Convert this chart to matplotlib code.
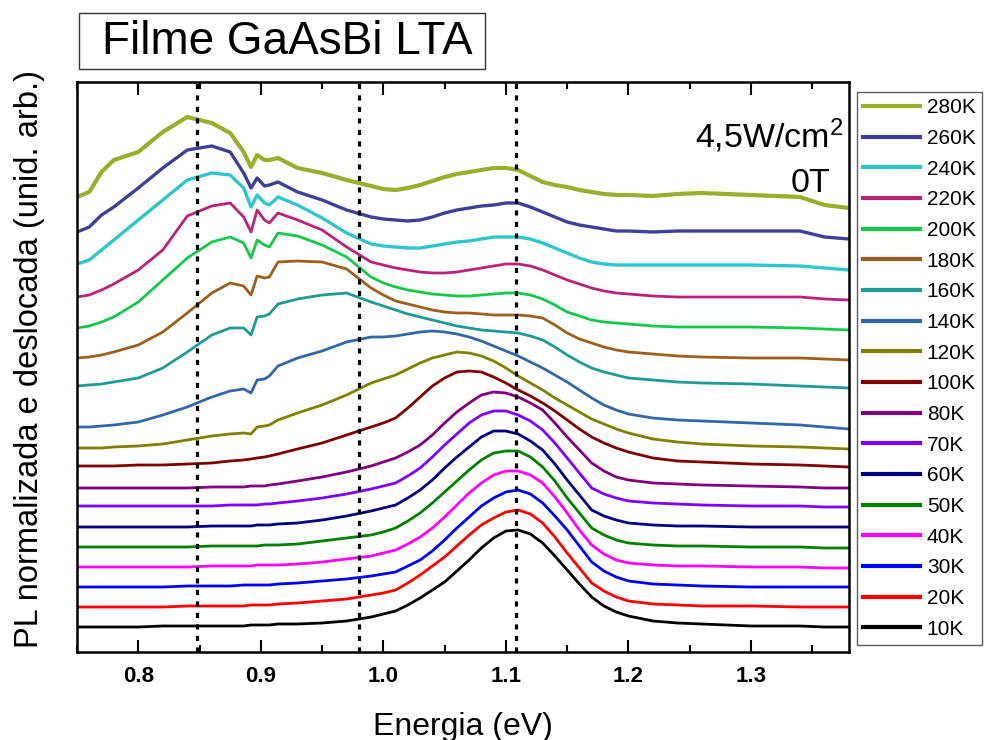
import matplotlib
matplotlib.use('Agg')
import matplotlib.pyplot as plt
from matplotlib.patches import Rectangle
from matplotlib.ticker import MultipleLocator

plt.rcParams['font.family'] = ['Liberation Sans', 'DejaVu Sans']
plt.rcParams['mathtext.fontset'] = 'custom'
plt.rcParams['mathtext.rm'] = 'Liberation Sans'

# energia (eV)
energia = [0.75, 0.76, 0.77, 0.78, 0.80, 0.82, 0.84, 0.86, 0.875, 0.886, 0.892, 0.897,
           0.903, 0.907, 0.914, 0.93, 0.95, 0.97, 0.99,
           1.00, 1.01, 1.02, 1.03, 1.04, 1.05, 1.06, 1.07, 1.08, 1.09, 1.10,
           1.11, 1.12, 1.13, 1.14, 1.15, 1.16, 1.17, 1.18, 1.19, 1.20,
           1.22, 1.24, 1.26, 1.30, 1.34, 1.36, 1.38]

# PL normalizada + deslocamento (unid. arb.)
pl_10K = [25, 25, 25, 25, 25, 26, 26, 26, 26, 26, 27, 27, 27, 27, 28, 28, 29, 31, 35,
          38, 41, 47, 54, 62, 70, 81, 92, 104, 114, 121, 122, 118, 109, 96, 82, 68, 55, 46, 40, 36,
          31, 29, 28, 26, 26, 25, 25]
pl_20K = [45, 45, 45, 45, 45, 45, 46, 46, 46, 46, 47, 47, 47, 47, 48, 49, 51, 53, 57,
          59, 62, 69, 77, 86, 95, 106, 117, 127, 134, 140, 142, 138, 129, 115, 99, 84, 69, 61, 55, 51,
          48, 47, 46, 46, 45, 45, 45]
pl_30K = [65, 65, 65, 65, 65, 65, 66, 66, 66, 67, 67, 67, 67, 67, 68, 69, 71, 73, 76,
          78, 80, 86, 92, 101, 112, 124, 135, 146, 154, 160, 162, 158, 149, 136, 122, 106, 90, 81, 75, 71,
          68, 67, 66, 65, 65, 65, 65]
pl_40K = [85, 85, 85, 85, 85, 85, 85, 86, 86, 86, 86, 87, 87, 87, 87, 88, 90, 93, 96,
          99, 102, 108, 115, 124, 135, 147, 159, 169, 177, 181, 181, 177, 169, 155, 139, 122, 107, 98, 92, 89,
          87, 86, 86, 85, 85, 84, 84]
pl_50K = [105, 105, 105, 105, 105, 105, 105, 106, 106, 106, 106, 106, 107, 107, 107, 108, 111, 114, 117,
          120, 124, 131, 139, 149, 160, 171, 182, 192, 199, 201, 201, 195, 185, 171, 154, 139, 124, 117, 112, 109,
          107, 106, 106, 105, 105, 104, 104]
pl_60K = [125, 125, 125, 125, 125, 125, 125, 126, 126, 126, 126, 127, 127, 127, 128, 129, 132, 136, 141,
          144, 147, 154, 162, 172, 184, 195, 205, 215, 221, 221, 218, 211, 202, 188, 172, 157, 142, 136, 132, 129,
          127, 126, 126, 125, 125, 125, 125]
pl_70K = [146, 146, 146, 146, 146, 146, 146, 146, 147, 147, 147, 147, 148, 148, 149, 151, 154, 158, 163,
          166, 169, 176, 184, 195, 207, 218, 229, 237, 241, 241, 237, 231, 222, 209, 194, 179, 164, 158, 154, 151,
          149, 148, 147, 146, 146, 145, 145]
pl_80K = [164, 164, 164, 164, 164, 164, 164, 165, 165, 165, 166, 166, 166, 167, 168, 171, 175, 180, 186,
          190, 194, 200, 207, 217, 229, 240, 249, 257, 260, 259, 255, 249, 242, 229, 215, 202, 189, 181, 175, 172,
          169, 168, 167, 166, 165, 164, 164]
pl_100K = [186, 186, 186, 186, 187, 187, 188, 189, 191, 192, 193, 194, 195, 196, 198, 203, 209, 217, 225,
           229, 234, 244, 255, 266, 274, 280, 281, 280, 275, 269, 262, 256, 249, 241, 232, 223, 215, 209, 204, 200,
           194, 191, 190, 188, 187, 186, 185]
pl_120K = [204, 204, 204, 205, 206, 208, 212, 216, 218, 219, 218, 225, 226, 227, 232, 239, 247, 257, 269,
           273, 277, 283, 289, 294, 297, 300, 299, 296, 291, 284, 276, 269, 262, 254, 247, 240, 233, 228, 223, 219,
           213, 210, 208, 206, 205, 204, 203]
pl_140K = [225, 225, 226, 227, 230, 237, 245, 255, 261, 263, 259, 272, 273, 276, 286, 294, 301, 310, 315,
           315, 316, 318, 320, 321, 320, 318, 315, 311, 306, 301, 296, 290, 284, 277, 270, 262, 254, 247, 242, 238,
           234, 232, 231, 229, 227, 225, 223]
pl_160K = [266, 267, 268, 270, 274, 284, 300, 317, 324, 324, 317, 335, 336, 338, 348, 353, 357, 359, 350,
           346, 342, 338, 335, 332, 329, 326, 324, 322, 321, 320, 319, 316, 312, 305, 297, 290, 284, 280, 277, 274,
           272, 270, 269, 268, 266, 265, 264]
pl_180K = [294, 295, 297, 300, 307, 320, 339, 359, 369, 366, 357, 376, 374, 375, 390, 391, 390, 383, 364,
           357, 351, 348, 345, 342, 340, 339, 339, 338, 337, 337, 337, 336, 334, 327, 319, 313, 309, 305, 302, 300,
           298, 296, 295, 294, 294, 293, 292]
pl_200K = [324, 326, 330, 335, 350, 372, 394, 410, 415, 409, 394, 412, 407, 405, 419, 416, 407, 395, 375,
           369, 365, 362, 360, 358, 357, 356, 356, 357, 358, 359, 359, 357, 353, 347, 340, 336, 332, 330, 329, 328,
           326, 325, 325, 325, 324, 323, 322]
pl_220K = [355, 357, 362, 368, 382, 402, 436, 446, 449, 435, 420, 442, 432, 429, 439, 432, 422, 405, 390,
           387, 384, 382, 380, 379, 379, 380, 382, 384, 386, 388, 388, 386, 382, 377, 372, 368, 364, 361, 359, 358,
           356, 355, 355, 355, 355, 353, 352]
pl_240K = [388, 392, 402, 412, 432, 452, 472, 479, 477, 464, 445, 457, 449, 447, 455, 447, 434, 419, 408,
           406, 405, 404, 404, 406, 408, 410, 411, 413, 415, 415, 415, 413, 409, 404, 399, 394, 390, 388, 387, 387,
           387, 387, 387, 387, 386, 384, 382]
pl_260K = [420, 425, 437, 445, 464, 484, 502, 506, 500, 479, 464, 474, 466, 467, 470, 460, 452, 442, 435,
           433, 432, 431, 432, 435, 439, 442, 444, 446, 447, 449, 449, 445, 440, 435, 430, 427, 425, 423, 421, 421,
           420, 421, 421, 421, 421, 415, 413]
pl_280K = [455, 460, 480, 492, 500, 520, 535, 529, 519, 500, 485, 497, 492, 492, 494, 484, 479, 472, 466,
           463, 462, 464, 467, 471, 475, 478, 480, 482, 484, 484, 482, 476, 470, 467, 465, 462, 460, 458, 457, 457,
           456, 458, 459, 457, 455, 447, 444]

temperaturas = ['10K', '20K', '30K', '40K', '50K', '60K', '70K', '80K', '100K', '120K',
                '140K', '160K', '180K', '200K', '220K', '240K', '260K', '280K']
espectros = [pl_10K, pl_20K, pl_30K, pl_40K, pl_50K, pl_60K, pl_70K, pl_80K, pl_100K, pl_120K,
             pl_140K, pl_160K, pl_180K, pl_200K, pl_220K, pl_240K, pl_260K, pl_280K]
cores = ['#000000', '#ff0000', '#0000ff', '#ff00ff', '#008000', '#000080', '#8000ff', '#800080',
         '#800000', '#808000', '#3366a6', '#1f9a94', '#9c5f1e', '#14c94a', '#b8237a', '#2ec6cc',
         '#3f3f98', '#9aae2e']

# linhas de referencia (eV)
linhas_ref = [0.848, 0.980, 1.108]

fig = plt.figure(figsize=(9.85, 7.4), dpi=100)
ax = fig.add_axes([77/985, 88/740, 772/985, 570/740])

handles = []
for t, y, c in zip(temperaturas, espectros, cores):
    lw = 3.0 if t == '280K' else (2.4 if t in ('260K', '240K') else 2.0)
    h, = ax.plot(energia, y, color=c, lw=lw, label=t, solid_joinstyle='round')
    handles.append(h)

for xr in linhas_ref:
    ax.axvline(xr, color='black', lw=2.3, linestyle=(0, (1.6, 2.0)), zorder=5)

ax.set_xlim(0.75, 1.38)
ax.set_ylim(0, 570)
ax.xaxis.set_major_locator(MultipleLocator(0.1))
ax.xaxis.set_minor_locator(MultipleLocator(0.05))
ax.set_yticks([])
ax.tick_params(axis='x', which='both', direction='in', top=True, width=1.5)
ax.tick_params(axis='x', which='major', length=9, pad=10)
ax.tick_params(axis='x', which='minor', length=5)
for s in ax.spines.values():
    s.set_linewidth(1.8)

ax.set_xticklabels(['%.1f' % v for v in ax.get_xticks()])
for lab in ax.get_xticklabels():
    lab.set_fontweight('bold')
    lab.set_fontsize(16)

ax.set_xlabel('Energia (eV)', fontsize=23, labelpad=18)
ax.set_ylabel('PL normalizada e deslocada (unid. arb.)', fontsize=23.5)
ax.yaxis.set_label_coords(-0.042, 0.514)

ax.text(0.993, 0.905, r'4,5W/cm$\mathregular{^2}$', transform=ax.transAxes,
        ha='right', va='center', fontsize=24.5)
ax.text(0.976, 0.822, '0T', transform=ax.transAxes, ha='right', va='center', fontsize=24.5)

# caixa do titulo
fig.add_artist(Rectangle((79/985, 1-69/740), 406/985, 56/740, transform=fig.transFigure,
                         fill=False, edgecolor='#333333', lw=1.0))
fig.text(287/985, 1-42/740, 'Filme GaAsBi LTA', ha='center', va='center', fontsize=33)

leg = fig.legend(handles[::-1], temperaturas[::-1], loc='upper left',
                 bbox_to_anchor=(857/985, 1-92/740), fontsize=15, frameon=True,
                 fancybox=False, edgecolor='#333333', labelspacing=0.56, handlelength=2.7,
                 handletextpad=0.35, borderpad=0.3, borderaxespad=0)
leg.get_frame().set_linewidth(1.0)
for ln in leg.get_lines():
    ln.set_linewidth(3)

fig.savefig('out.png', dpi=100)
